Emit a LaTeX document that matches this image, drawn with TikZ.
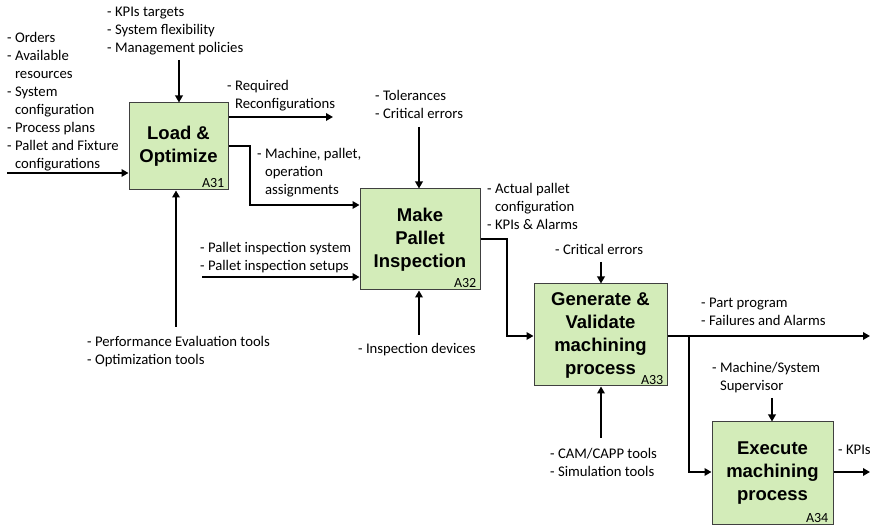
\documentclass[tikz,border=0pt]{standalone}
\usepackage{fontspec}
\setmainfont{Carlito}
\newfontfamily\titlefont{Liberation Sans}
\usetikzlibrary{arrows.meta}
\definecolor{boxfill}{RGB}{211,236,185}
\definecolor{boxline}{RGB}{64,64,64}
\begin{document}
\begin{tikzpicture}[x=1pt,y=-1pt,
  box/.style={draw=boxline, line width=1pt, fill=boxfill, inner sep=0pt, align=center,
    font=\titlefont\bfseries\fontsize{18.5}{23}\selectfont},
  lbl/.style={font=\fontsize{14}{15}\selectfont, inner sep=0pt, anchor=base east},
  txt/.style={font=\fontsize{14.7}{18}\selectfont, inner sep=0pt, anchor=north west, align=left},
  arr/.style={line width=2.4pt, -{Triangle[length=7pt,width=7.5pt]}}]
\useasboundingbox (0,0) rectangle (871,526);

% boxes
\node[box, minimum width=99pt, minimum height=87pt] (a31) at (178.5,146.5) {Load \&\\Optimize};
\node[box, minimum width=120pt, minimum height=101pt] (a32) at (420,239.5) {Make\\Pallet\\Inspection};
\node[box, minimum width=133pt, minimum height=102pt] (a33) at (600.5,335) {Generate \&\\Validate\\machining\\process};
\node[box, minimum width=121pt, minimum height=103pt] (a34) at (772.5,473.5) {Execute\\machining\\process};

\node[lbl, xshift=-4pt, yshift=3pt] (l31) at (a31.south east) {A31};
\node[lbl, xshift=-4pt, yshift=3pt] (l32) at (a32.south east) {A32};
\node[lbl, xshift=-4pt, yshift=2pt] (l33) at (a33.south east) {A33};
\node[lbl, xshift=-5pt, yshift=3pt] (l34) at (a34.south east) {A34};

% texts (top = first baseline - 12.6)
\node[txt] (t1) at (107,3.4) {\strut- KPIs targets\\- System flexibility\\- Management policies};
\node[txt] (t2) at (7,29.4) {\strut- Orders\\- Available\\\phantom{- }resources\\- System\\\phantom{- }configuration\\- Process plans\\- Pallet and Fixture\\\phantom{- }configurations};
\node[txt] (t3) at (227,77.4) {\strut- Required\\\phantom{- }Reconfigurations};
\node[txt] (t4) at (257,145.4) {\strut- Machine, pallet,\\\phantom{- }operation\\\phantom{- }assignments};
\node[txt] (t5) at (375,87.4) {\strut- Tolerances\\- Critical errors};
\node[txt] (t6) at (487,180.4) {\strut- Actual pallet\\\phantom{- }configuration\\- KPIs \& Alarms};
\node[txt] (t7) at (200,239.4) {\strut- Pallet inspection system\\- Pallet inspection setups};
\node[txt] (t8) at (555,241.4) {\strut- Critical errors};
\node[txt] (t9) at (701,294.4) {\strut- Part program\\- Failures and Alarms};
\node[txt] (t10) at (712,359.4) {\strut- Machine/System\\\phantom{- }Supervisor};
\node[txt] (t11) at (87,333.4) {\strut- Performance Evaluation tools\\- Optimization tools};
\node[txt] (t12) at (358,340.4) {\strut- Inspection devices};
\node[txt] (t13) at (550,445.4) {\strut- CAM/CAPP tools\\- Simulation tools};
\node[txt] (t14) at (838,441.4) {\strut- KPIs};

% free ends and bends
\coordinate (in1) at (7,173);
\coordinate (c1) at (179,60);
\coordinate (m1) at (176,327);
\coordinate (o1) at (333,117);
\coordinate (k1) at (250,146);
\coordinate (k2) at (250,205);
\coordinate (c2) at (419,127);
\coordinate (i2) at (202,277);
\coordinate (m2) at (419,335);
\coordinate (k3) at (507,239);
\coordinate (k4) at (507,336);
\coordinate (c3) at (601,262);
\coordinate (o3) at (870,336);
\coordinate (k5) at (689,336);
\coordinate (k6) at (689,472);
\coordinate (c4) at (772,398);
\coordinate (m3) at (601,438);
\coordinate (o4) at (870,472);

% connectors
\draw[arr] (in1) -- (in1 -| a31.west);
\draw[arr] (c1) -- (c1 |- a31.north);
\draw[arr] (m1) -- (m1 |- a31.south);
\draw[arr] (o1 -| a31.east) -- (o1);
\draw[arr] (k1 -| a31.east) -- (k1) -- (k2) -- (k2 -| a32.west);
\draw[arr] (c2) -- (c2 |- a32.north);
\draw[arr] (i2) -- (i2 -| a32.west);
\draw[arr] (m2) -- (m2 |- a32.south);
\draw[arr] (k3 -| a32.east) -- (k3) -- (k4) -- (k4 -| a33.west);
\draw[arr] (c3) -- (c3 |- a33.north);
\draw[arr] (o3 -| a33.east) -- (o3);
\draw[arr] (k5) -- (k6) -- (k6 -| a34.west);
\draw[arr] (c4) -- (c4 |- a34.north);
\draw[arr] (m3) -- (m3 |- a33.south);
\draw[arr] (o4 -| a34.east) -- (o4);
\end{tikzpicture}
\end{document}
